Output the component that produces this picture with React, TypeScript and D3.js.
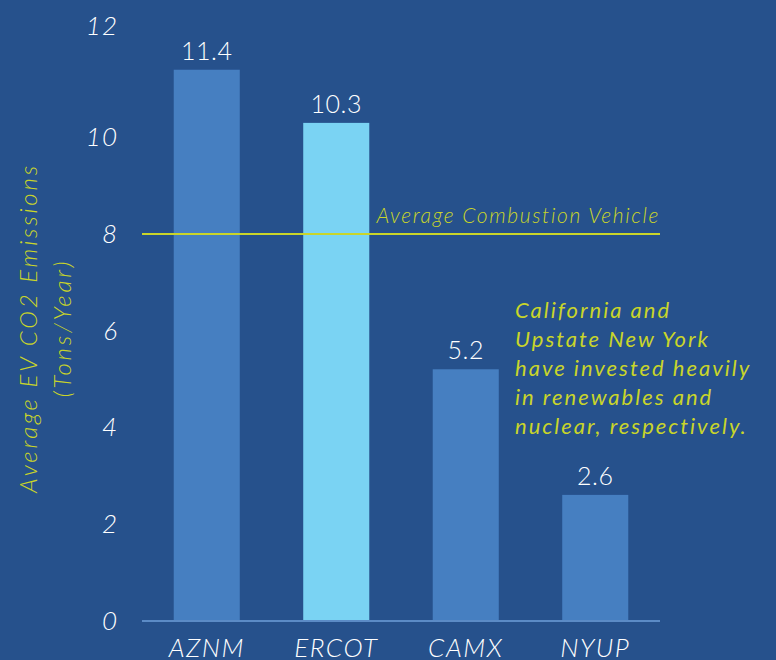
import React from "react";
import * as d3 from "d3";

const categories = ["AZNM", "ERCOT", "CAMX", "NYUP"];
const values = [11.4, 10.3, 5.2, 2.6];
const highlighted = ["ERCOT"];
const yTicks = [0, 2, 4, 6, 8, 10, 12];
const referenceValue = 8;
const referenceLabel = "Average Combustion Vehicle";
const yTitleLines = ["Average EV CO2 Emissions", "(Tons/Year)"];
const noteLines = [
  "California and",
  "Upstate New York",
  "have invested heavily",
  "in renewables and",
  "nuclear, respectively.",
];

const W = 776;
const H = 660;
const BG = "#26518c";
const BAR = "#467fc1";
const BAR_HI = "#7ad3f3";
const YEL = "#c9d52a";
const FONT = "Lato, 'Open Sans', sans-serif";

export default function App() {
  const x = d3
    .scaleBand<string>()
    .domain(categories)
    .range([142, 660])
    .paddingInner(0.49)
    .paddingOuter(0.245);
  const y = d3.scaleLinear().domain([0, 8]).range([620.5, 234]);

  return (
    <div style={{ position: "fixed", left: 0, top: 0, width: W, height: H }}>
      <svg width={W} height={H} style={{ display: "block" }} fontFamily={FONT}>
        <rect x={0} y={0} width={W} height={H} fill={BG} />
        {/* y tick labels */}
        {yTicks.map((t) => (
          <text
            key={t}
            x={118}
            y={y(t) + (t === 12 ? -15 : 0)}
            dy="0.35em"
            textAnchor="end"
            fill="#ffffff"
            fontSize={26}
            fontStyle="italic"
            fontWeight={300}
            letterSpacing={1}
          >
            {t}
          </text>
        ))}
        {/* y title */}
        <g transform={`translate(0, 328) rotate(-90)`}>
          {yTitleLines.map((l, i) => (
            <text
              key={i}
              x={0}
              y={37 + i * 34}
              textAnchor="middle"
              fill={YEL}
              fontSize={24}
              fontStyle="italic"
              fontWeight={300}
              letterSpacing={2.8}
            >
              {l}
            </text>
          ))}
        </g>
        {/* bars */}
        {categories.map((c, i) => (
          <g key={c}>
            <rect
              x={x(c)}
              y={y(values[i])}
              width={x.bandwidth()}
              height={y(0) - y(values[i])}
              fill={highlighted.includes(c) ? BAR_HI : BAR}
            />
            <text
              x={(x(c) as number) + x.bandwidth() / 2}
              y={y(values[i]) - 10}
              textAnchor="middle"
              fill="#ffffff"
              fontSize={25}
              fontWeight={300}
              letterSpacing={0.5}
            >
              {values[i].toFixed(1)}
            </text>
            <text
              x={(x(c) as number) + x.bandwidth() / 2}
              y={657}
              textAnchor="middle"
              fill="#ffffff"
              fontSize={26}
              fontStyle="italic"
              fontWeight={300}
              letterSpacing={1.5}
            >
              {c}
            </text>
          </g>
        ))}
        {/* baseline */}
        <line x1={142} x2={660} y1={y(0) + 0.5} y2={y(0) + 0.5} stroke="#5b8bc6" strokeWidth={2} />
        {/* reference line */}
        <line x1={142} x2={660} y1={y(referenceValue)} y2={y(referenceValue)} stroke={YEL} strokeWidth={2} />
        <text
          x={660}
          y={y(referenceValue) - 11}
          textAnchor="end"
          fill={YEL}
          fontSize={21}
          fontStyle="italic"
          fontWeight={300}
          letterSpacing={1.65}
        >
          {referenceLabel}
        </text>
        {/* note */}
        {noteLines.map((l, i) => (
          <text
            key={i}
            x={515}
            y={318 + i * 29}
            fill={YEL}
            fontSize={22}
            fontStyle="italic"
            fontWeight={400}
            letterSpacing={2}
          >
            {l}
          </text>
        ))}
      </svg>
    </div>
  );
}
